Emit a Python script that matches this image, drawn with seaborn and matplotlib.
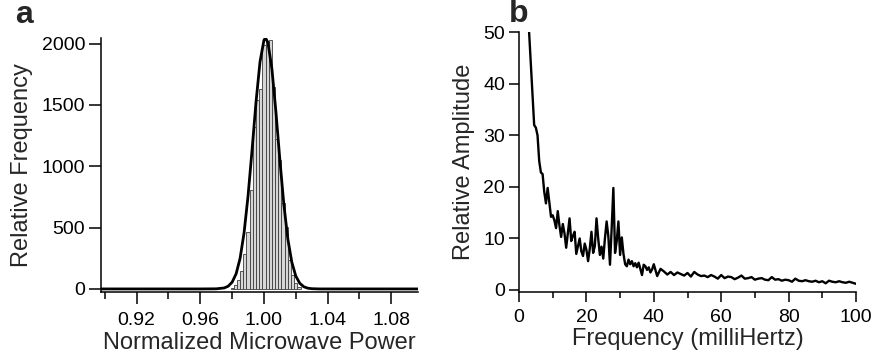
import numpy as np
import pandas as pd
import matplotlib
matplotlib.use("Agg")
import matplotlib.pyplot as plt
import seaborn as sns
from matplotlib.ticker import MultipleLocator, FormatStrFormatter

# ---------------- Panel a: histogram of normalized microwave power ----------------
hist_centers = [0.980, 0.982, 0.984, 0.986, 0.988, 0.990, 0.992, 0.994, 0.996, 0.998,
                1.000, 1.002, 1.004, 1.006, 1.008, 1.010, 1.012, 1.014, 1.016, 1.018,
                1.020, 1.022]
hist_counts = [10, 30, 70, 150, 285, 466, 805, 1320, 1537, 1632,
               1990, 2020, 2030, 1645, 1225, 1049, 699, 506, 236, 110,
               45, 15]
bin_width = 0.002

# Gaussian fit curve
fit_x = [0.8976, 0.960, 0.970, 0.975, 0.9775, 0.980, 0.9825, 0.985, 0.9875, 0.990,
         0.9925, 0.995, 0.9975, 1.000, 1.001, 1.0025, 1.005, 1.0075, 1.010, 1.0125,
         1.015, 1.0175, 1.020, 1.0225, 1.025, 1.0275, 1.030, 1.035, 1.0968]
fit_y = [0, 0, 1, 8, 22, 55, 123, 249, 457, 757,
         1129, 1521, 1849, 2028, 2045, 2008, 1793, 1445, 1051, 689,
         408, 218, 105, 46, 18, 6, 2, 0, 0]

a_xticks = [0.92, 0.96, 1.00, 1.04, 1.08]
a_yticks = [0, 500, 1000, 1500, 2000]

# ---------------- Panel b: amplitude spectrum ----------------
freq_fine_start, freq_fine_step = 3.0, 0.5
amp_fine = [50, 44, 38, 32, 31.5, 30, 25, 22.8, 22.5, 19,
            16.8, 19.8, 17, 14.2, 14.5, 13.5, 12, 15.3, 12.5, 10.3,
            12.8, 11, 8.2, 11, 13.9, 9.5, 10.5, 11.3, 7, 8.5,
            10, 7.5, 6.6, 9, 7.8, 5.6, 8, 11.3, 7.2, 8.5,
            13.9, 10, 6.8, 8.4, 6.1, 10, 13.3, 10.5, 4.9, 12,
            19.8, 7.2, 9.5, 13.3, 6.8, 10.2, 7, 5, 4.6, 5.9,
            5.0, 5.6, 4.6, 5.2, 4.4, 5.3, 4.1, 2.9, 4.9, 4.6,
            3.9, 4.4, 3.4, 4.0, 5.0]
freq_coarse_start, freq_coarse_step = 41.0, 1.0
amp_coarse = [2.7, 4.1, 3.6, 3.0, 3.5, 2.9, 3.4, 3.1, 2.8, 3.3,
              2.6, 3.5, 3.0, 2.7, 2.8, 2.5, 2.9, 2.6, 2.2, 2.9,
              2.3, 2.6, 2.5, 2.1, 2.4, 2.8, 2.2, 2.3, 2.5, 2.0,
              2.2, 2.3, 2.0, 1.9, 2.5, 2.0, 2.1, 1.8, 2.0, 1.9,
              1.6, 2.2, 1.8, 1.7, 1.9, 1.7, 1.6, 1.8, 1.5, 1.7,
              1.3, 1.8, 1.6, 1.5, 1.7, 1.5, 1.4, 1.6, 1.4, 1.2]

freq = np.concatenate([freq_fine_start + freq_fine_step * np.arange(len(amp_fine)),
                       freq_coarse_start + freq_coarse_step * np.arange(len(amp_coarse))])
amp = np.array(amp_fine + amp_coarse, dtype=float)

b_xticks = [0, 20, 40, 60, 80, 100]
b_yticks = [0, 10, 20, 30, 40, 50]

# ---------------- Figure ----------------
sns.set_theme(style="ticks")
plt.rcParams['font.family'] = ['Liberation Sans', 'DejaVu Sans']
plt.rcParams['axes.linewidth'] = 1.1

W, H = 875, 360
fig = plt.figure(figsize=(W / 100, H / 100), dpi=100)

axa = fig.add_axes([101 / W, 1 - 292 / H, (418 - 101) / W, (292 - 38) / H])
axb = fig.add_axes([519 / W, 1 - 292 / H, (856 - 519) / W, (292 - 32.3) / H])

# Panel a
hist_df = pd.DataFrame({'power': hist_centers, 'count': hist_counts})
lo = min(hist_centers) - bin_width / 2
hi = max(hist_centers) + bin_width / 2
sns.histplot(data=hist_df, x='power', weights='count', binwidth=bin_width,
             binrange=(lo, hi), ax=axa,
             color='#d6d6d6', edgecolor='#3c3c3c', linewidth=0.6, alpha=1.0)
sns.lineplot(x=fit_x, y=fit_y, ax=axa, color='black', linewidth=2.0)
axa.set_xlim(0.8976, 1.0968)
axa.set_ylim(-25, 2045)
axa.set_xticks(a_xticks)
axa.xaxis.set_major_formatter(FormatStrFormatter('%.2f'))
axa.xaxis.set_minor_locator(MultipleLocator(0.02))
axa.set_yticks(a_yticks)
axa.set_xlabel('Normalized Microwave Power', fontsize=17, labelpad=2)
axa.set_ylabel('Relative Frequency', fontsize=17, labelpad=6)
axa.tick_params(axis='x', which='major', length=8.5, width=1.1, labelsize=14, pad=6)
axa.tick_params(axis='x', which='minor', length=5, width=1.1)
axa.tick_params(axis='y', which='major', length=8.5, width=1.1, labelsize=14, pad=3)

# Panel b
sns.lineplot(x=freq, y=amp, ax=axb, color='black', linewidth=1.7)
axb.set_xlim(0, 100)
axb.set_ylim(-0.39, 50)
axb.set_xticks(b_xticks)
axb.xaxis.set_minor_locator(MultipleLocator(10))
axb.set_yticks(b_yticks)
axb.set_xlabel('Frequency (milliHertz)', fontsize=17, labelpad=2)
axb.set_ylabel('Relative Amplitude', fontsize=17, labelpad=6)
axb.tick_params(axis='x', which='major', length=7, width=1.1, labelsize=14, pad=5)
axb.tick_params(axis='x', which='minor', length=4.5, width=1.1)
axb.tick_params(axis='y', which='major', length=7, width=1.1, labelsize=14, pad=3)

for ax in (axa, axb):
    sns.despine(ax=ax)
    for s in ('left', 'bottom'):
        ax.spines[s].set_color('black')
    ax.tick_params(colors='black', which='both')

fig.text(15 / W, 1 - 23 / H, 'a', fontsize=23, fontweight='bold', va='baseline', ha='left')
fig.text(509 / W, 1 - 22 / H, 'b', fontsize=23, fontweight='bold', va='baseline', ha='left')

fig.savefig('out.png', dpi=100)
